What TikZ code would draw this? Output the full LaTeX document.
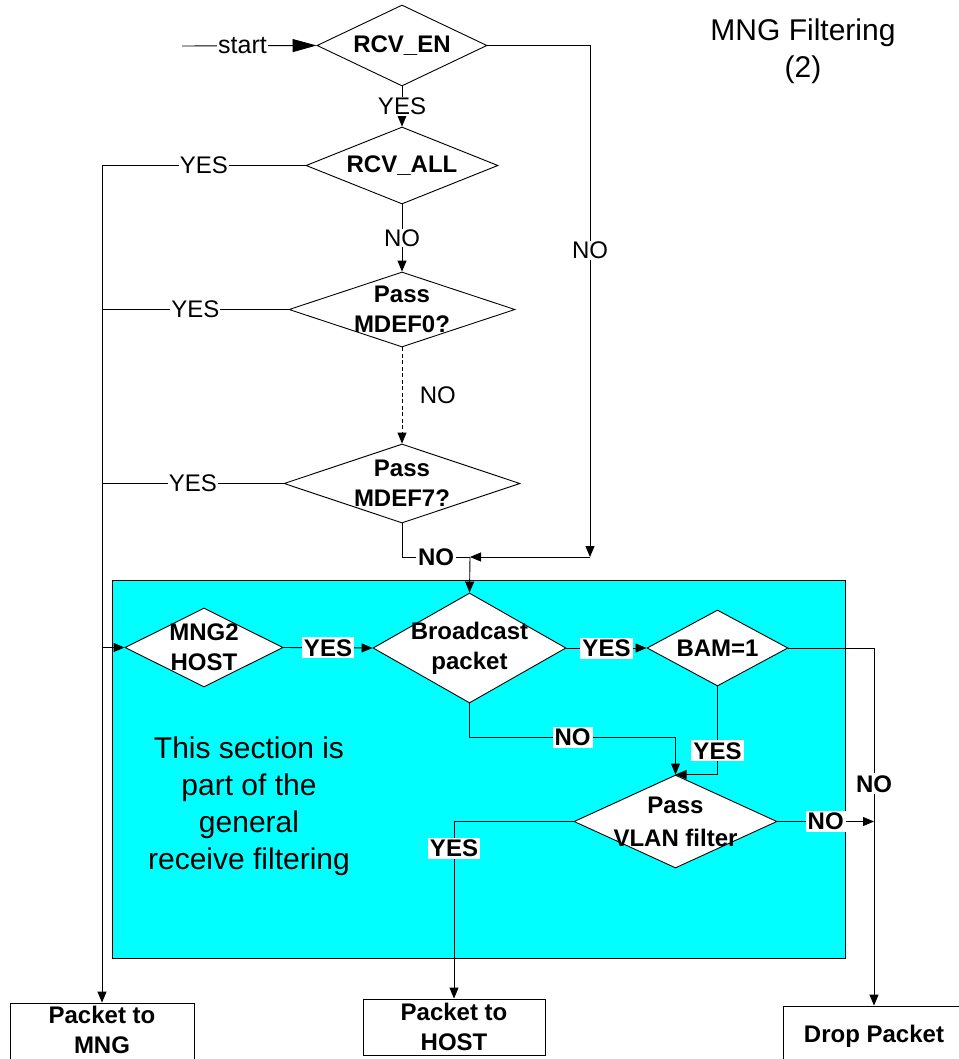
\documentclass[tikz,border=0pt]{standalone}
\usepackage{fontspec}
\setmainfont{Liberation Sans}
\usetikzlibrary{shapes.geometric,arrows.meta}
\definecolor{aqua}{RGB}{0,255,255}
\begin{document}
\begin{tikzpicture}[x=1pt,y=-1pt,
  line width=0.9pt,
  arr/.style={-{Triangle[length=11pt,width=9pt]}},
  dia/.style 2 args={diamond,draw,fill=white,inner sep=0pt,minimum width=#1,minimum height=#2},
  dtext/.style={font=\fontsize{24}{30}\selectfont\bfseries,align=center,inner sep=0pt},
  lab/.style={font=\fontsize{24}{28}\selectfont,fill=white,inner sep=1pt},
  blab/.style={font=\fontsize{24}{28}\selectfont\bfseries,fill=white,inner sep=2pt},
  term/.style={draw,fill=white,font=\fontsize{24}{30}\selectfont\bfseries,align=center,inner sep=0pt},
  big/.style={font=\fontsize{30}{37}\selectfont,align=center},
  sectbox/.style={draw,fill=aqua,inner sep=0pt}
]
\useasboundingbox (0,0) rectangle (958,1059);

% section background
\node[sectbox,minimum width=733pt,minimum height=378pt] (sect) at (478.5,769) {};

% decisions
\node[dia={170pt}{81pt}] (rcven) at (402,45.5) {};
\node[dtext] (rcvenT) at (rcven) {RCV\_EN};
\node[dia={192pt}{77pt}] (rcvall) at (402,165.5) {};
\node[dtext] (rcvallT) at (rcvall) {RCV\_ALL};
\node[dia={226pt}{75pt}] (mdef0) at (402,309.5) {};
\node[dtext] (mdef0T) at (mdef0) {Pass\\MDEF0?};
\node[dia={236pt}{79pt}] (mdef7) at (402,483.5) {};
\node[dtext] (mdef7T) at (mdef7) {Pass\\MDEF7?};
\node[dia={158pt}{79pt}] (mng2) at (204,647.5) {};
\node[dtext] (mng2T) at (mng2) {MNG2\\HOST};
\node[dia={193pt}{110pt}] (bcast) at (469.5,648) {};
\node[dtext] (bcastT) at (bcast) {Broadcast\\packet};
\node[dia={141pt}{76pt}] (bam) at (717.5,648) {};
\node[dtext] (bamT) at (bam) {BAM=1};
\node[dia={203pt}{93pt}] (vlan) at (675.5,821.5) {};
\node[dtext,font=\fontsize{24}{33}\selectfont\bfseries] (vlanT) at (vlan) {Pass\\VLAN filter};

% terminals
\node[term,minimum width=184pt,minimum height=60pt] (mngbox) at (102,1033) {};
\node[dtext] (mngboxT) at (102,1030) {Packet to\\MNG};
\node[term,minimum width=182pt,minimum height=56pt] (hostbox) at (454,1027) {Packet to\\HOST};
\node[term,minimum width=182pt,minimum height=60pt] (dropbox) at (874,1036) {Drop Packet};

% texts
\node[big] (note) at (249,806) {This section is\\part of the\\general\\receive filtering};
\node[big] (title) at (803,51) {MNG Filtering\\(2)};

% connectors
\coordinate (st) at (182,46);
\coordinate (cnr) at (590,557);
\coordinate (jn) at (470,557);
\draw[-{Triangle[length=24pt,width=13pt]}] (st) -- node[lab,pos=0.45,font=\fontsize{25}{28}\selectfont]{start} (rcven.west);
\draw[arr] (rcven.south) -- node[lab]{YES} (rcvall.north);
\draw[arr] (rcvall.south) -- node[lab]{NO} (mdef0.north);
\draw[arr,dash pattern=on 4pt off 2.5pt] (mdef0.south) -- node[right=14pt,font=\fontsize{24}{28}\selectfont]{NO} (mdef7.north);
\draw[arr] (rcven.east) -| node[lab,pos=0.7]{NO} (cnr);
\draw[arr] (cnr) -- (jn);
\draw (mdef7.south) |- node[blab,pos=0.75]{NO} (jn);
\draw[arr] (jn) -- (bcast.north);

\draw[arr] (rcvall.west) -| node[lab,pos=0.25]{YES} (mngbox.north);
\draw (mdef0.west) -- node[lab]{YES} (mdef0.west -| mngbox.north);
\draw (mdef7.west) -- node[lab]{YES} (mdef7.west -| mngbox.north);
\draw[arr] (mng2.west -| mngbox.north) -- (mng2.west);

\draw[arr] (mng2.east) -- node[blab]{YES} (bcast.west);
\draw[arr] (bcast.east) -- node[blab]{YES} (bam.west);
\draw[arr] (bam.east) -| node[blab,pos=0.69]{NO} (dropbox.north);
\draw[arr] (bam.south) |- node[blab,pos=0.365]{YES} (vlan.north);
\draw[arr] (bcast.south) -- ++(0,34) -| node[blab,pos=0.25]{NO} (vlan.north);
\draw[arr] (vlan.east) -- node[blab]{NO} (vlan.east -| dropbox.north);
\draw[arr] (vlan.west) -| node[blab,pos=0.576]{YES} (hostbox.north);
\end{tikzpicture}
\end{document}
